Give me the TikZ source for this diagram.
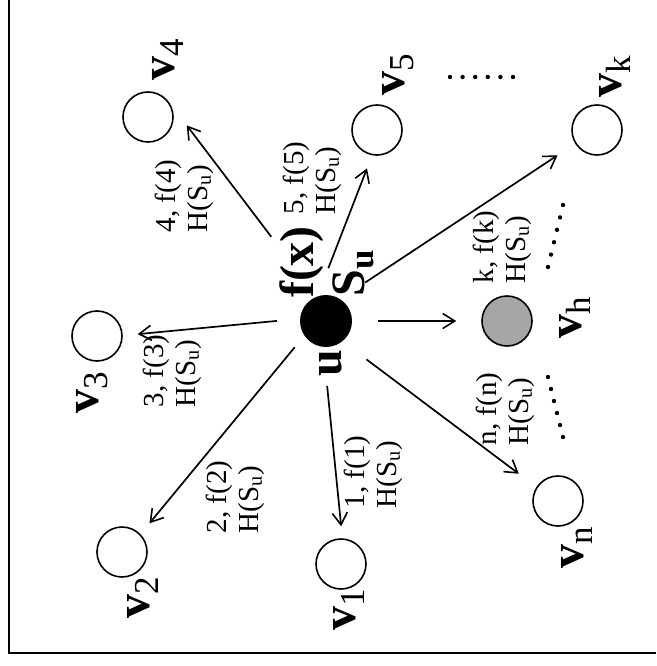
\documentclass[tikz,border=0pt]{standalone}
\usepackage{fontspec}
\setmainfont{Liberation Serif}
\usetikzlibrary{arrows.meta}

\tikzset{
  vertex/.style={circle, draw, line width=1.6pt, minimum size=50pt, inner sep=0pt},
  vname/.style={rotate=90, font=\fontsize{48}{48}\selectfont\bfseries, inner sep=0pt},
  elabel/.style={rotate=90, align=left, font=\fontsize{29}{32}\selectfont, inner sep=0pt},
  link/.style={line width=1.7pt, -{Straight Barb[length=12pt,width=15pt,line width=1.6pt]}},
  dotmark/.style={fill=black},
}
\newcommand{\hsu}{H(S\textsubscript{u})}
\newcommand{\lowsub}[1]{\raisebox{-9pt}{\fontsize{35}{35}\selectfont #1}}
\newcommand{\vsub}[1]{\raisebox{-9pt}{\fontsize{35}{35}\selectfont\mdseries #1}}

\begin{document}
\begin{tikzpicture}[x=1pt, y=-1pt]
  \useasboundingbox (0,0) rectangle (656,666);
  % frame
  \draw[line width=2pt] (8.5,0) -- (8.5,653) -- (656,653);

  % source node
  \node[circle, fill=black, minimum size=52pt, inner sep=0pt] (u) at (326,321) {};
  \node[vname] (ulab) at (331,363) {u};
  \node[vname] (fx) at (302,262) {f(x)};
  \node[vname] (su) at (353,273) {S\lowsub{u}};

  % neighbours
  \node[vertex] (v1) at (341,564) {};
  \node[vertex] (v2) at (122,552) {};
  \node[vertex] (v3) at (97,336) {};
  \node[vertex] (v4) at (148,117) {};
  \node[vertex] (v5) at (377,130) {};
  \node[vertex] (vk) at (597,130) {};
  \node[vertex] (vn) at (558,501) {};
  \node[vertex, fill=black!35] (vh) at (507,321) {};

  \node[vname] (v1lab) at (349,610) {v\vsub{1}};
  \node[vname] (v2lab) at (143,598) {v\vsub{2}};
  \node[vname] (v3lab) at (92,393) {v\vsub{3}};
  \node[vname] (v4lab) at (168,60) {v\vsub{4}};
  \node[vname] (v5lab) at (398,75) {v\vsub{5}};
  \node[vname] (vklab) at (615,77) {v\vsub{k}};
  \node[vname] (vnlab) at (577,548) {v\vsub{n}};
  \node[vname] (vhlab) at (575,318) {v\vsub{h}};

  % messages
  \draw[link, shorten <=39pt, shorten >=12pt] (u.264) -- (v1.87);
  \draw[link, shorten <=15pt, shorten >=14pt] (u.214) -- (v2.44);
  \draw[link, shorten <=23pt, shorten >=15pt] (u.175) -- (v3.1);
  \draw[link, shorten <=75pt, shorten >=30pt] (u.111) -- (v4.37);
  \draw[link, shorten <=30pt, shorten >=14pt] (u.109) -- (v5.259);
  \draw[link, shorten <=30pt, shorten >=21pt] (u.57) -- (vk.212);
  \draw[link, shorten <=30pt, shorten >=22pt] (u.309) -- (vn.147);
  \draw[link, shorten <=26pt, shorten >=25pt] (u.east) -- (vh.west);

  \node[elabel] (m1) at (373,472) {1, f(1)\\\hsu};
  \node[elabel] (m2) at (235,497) {2, f(2)\\\hsu};
  \node[elabel] (m3) at (172,371) {3, f(3)\\\hsu};
  \node[elabel] (m4) at (184,196) {4, f(4)\\\hsu};
  \node[elabel] (m5) at (312,178) {5, f(5)\\\hsu};
  \node[elabel] (mk) at (502,247) {k, f(k)\\\hsu};
  \node[elabel] (mn) at (505,409) {n, f(n)\\\hsu};

  % omitted neighbours
  \foreach \i in {0,...,5} {
    \fill[dotmark] (450+\i*12.6,77) circle (2.2pt);
    \fill[dotmark] (548+\i*3,267-\i*12.4) circle (2.2pt);
    \fill[dotmark] (548+\i*3,377+\i*12) circle (2.2pt);
  }
\end{tikzpicture}
\end{document}
